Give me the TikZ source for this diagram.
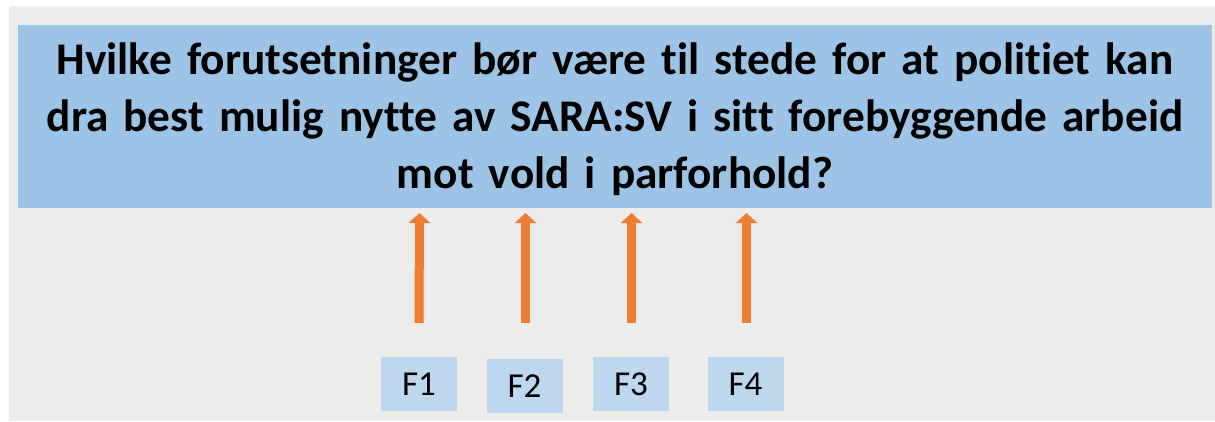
\documentclass[tikz,border=0pt]{standalone}
\usepackage{fontspec}
\setmainfont{Carlito}[Ligatures={NoCommon}]
\usetikzlibrary{arrows.meta}
\definecolor{bggray}{HTML}{ECECEC}
\definecolor{qblue}{HTML}{9DC3E6}
\definecolor{fblue}{HTML}{BDD7EE}
\definecolor{arrorange}{HTML}{ED7D31}
\tikzset{
  fbox/.style={fill=fblue, draw=none, minimum width=76pt, minimum height=54pt, inner sep=0pt,
    font=\fontsize{35}{40}\selectfont},
  uparrow/.style={draw=arrorange, line width=9pt, line cap=butt,
    -{Triangle[width=21pt 0,length=10pt 0]}},
}
\begin{document}
\begin{tikzpicture}[x=1pt,y=-1pt]
\useasboundingbox (0,0) rectangle (1215,421);
\fill[white] (0,0) rectangle (1215,421);
\fill[bggray] (9,6) rectangle (1215,421);
\node[fill=qblue, minimum width=1194pt, minimum height=183pt, inner sep=0pt] (qbox) at (615,116.5) {};
\node[text width=1190pt, align=center, inner sep=0pt, anchor=north, font=\fontsize{45.3}{57}\selectfont\bfseries] (q) at (615,34)
  {\rule{0pt}{40pt}Hvilke forutsetninger bør være til stede for at politiet kan\\
   dra best mulig nytte av SARA:SV i sitt forebyggende arbeid\\
   mot vold i parforhold?};
\node[fbox] (f1) at (419,384) {F1};
\node[fbox] (f2) at (524.5,386) {F2};
\node[fbox] (f3) at (631,384) {F3};
\node[fbox] (f4) at (745.5,384) {F4};
\coordinate (t1) at (419.5,213);
\coordinate (t2) at (525.5,213);
\coordinate (t3) at (631.5,213);
\coordinate (t4) at (746.5,213);
\draw[uparrow] (f1.north |- 0,323) -- (t1);
\draw[uparrow] ([xshift=1pt]f2.north |- 0,323) -- (t2);
\draw[uparrow] ([xshift=0.5pt]f3.north |- 0,323) -- (t3);
\draw[uparrow] ([xshift=1pt]f4.north |- 0,323) -- (t4);
\end{tikzpicture}
\end{document}
